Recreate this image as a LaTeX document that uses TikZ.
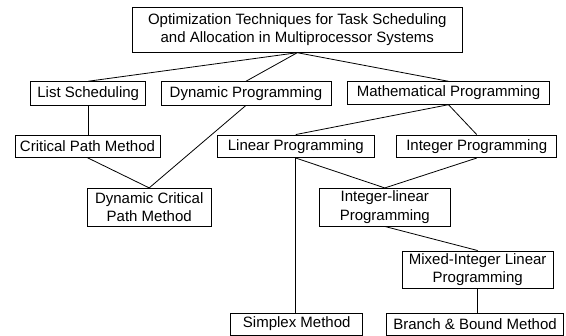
\documentclass[tikz,border=0pt]{standalone}
\usepackage{fontspec}
\setmainfont{Liberation Sans}
\begin{document}
\begin{tikzpicture}[x=1pt, y=-1pt,
  box/.style={draw, line width=0.8pt, inner sep=0pt, align=center,
    font=\fontsize{15}{18.2}\selectfont},
  link/.style={line width=0.8pt}]
\useasboundingbox (0,0) rectangle (566,336);

% boxes: centre, width, height
\node[box, minimum width=330pt, minimum height=45pt] (root) at (297.3,29.8)
  {Optimization Techniques for Task Scheduling\\and Allocation in Multiprocessor Systems};
\node[box, minimum width=115pt, minimum height=23.3pt] (ls) at (88.2,93.3) {List Scheduling};
\node[box, minimum width=170pt, minimum height=23.3pt] (dp) at (246,93.3) {Dynamic Programming};
\node[box, minimum width=201.6pt, minimum height=22.6pt] (mp) at (448.5,93) {Mathematical Programming};
\node[box, minimum width=145pt, minimum height=22.3pt] (cpm) at (87.5,146.2) {Critical Path Method};
\node[box, minimum width=157pt, minimum height=22.7pt] (lp) at (295.8,146.3) {Linear Programming};
\node[box, minimum width=160pt, minimum height=22.7pt] (ip) at (476.7,146.3) {Integer Programming};
\node[box, minimum width=123.7pt, minimum height=38.4pt] (dcpm) at (149.2,207.5) {Dynamic Critical\\Path Method};
\node[box, minimum width=131.7pt, minimum height=37.7pt] (ilp) at (384.8,207.2) {Integer-linear\\Programming};
\node[box, minimum width=151.3pt, minimum height=37.3pt] (milp) at (477.7,269.6) {Mixed-Integer Linear\\Programming};
\node[box, minimum width=132pt, minimum height=22pt] (sm) at (296.7,324) {Simplex Method};
\node[box, minimum width=176.6pt, minimum height=22pt] (bb) at (475,324) {Branch \& Bound Method};

% connectors
\draw[link] (root.south) -- (ls.north);
\draw[link] (root.south) -- (dp.north);
\draw[link] (root.south) -- (mp.north);
\draw[link] (ls.south) -- (ls.south |- cpm.north);
\draw[link] (mp.south) -- (lp.north);
\draw[link] (mp.south) -- (ip.north);
\draw[link] (cpm.south) -- (dcpm.north);
\draw[link] (dp.south) -- (dcpm.north);
\draw[link] (lp.south) -- (lp.south |- sm.north);
\draw[link] (lp.south) -- (ilp.north);
\draw[link] (ip.south) -- (ilp.north);
\draw[link] (ilp.south) -- (milp.north);
\draw[link] (milp.south) -- (milp.south |- bb.north);
\end{tikzpicture}
\end{document}
